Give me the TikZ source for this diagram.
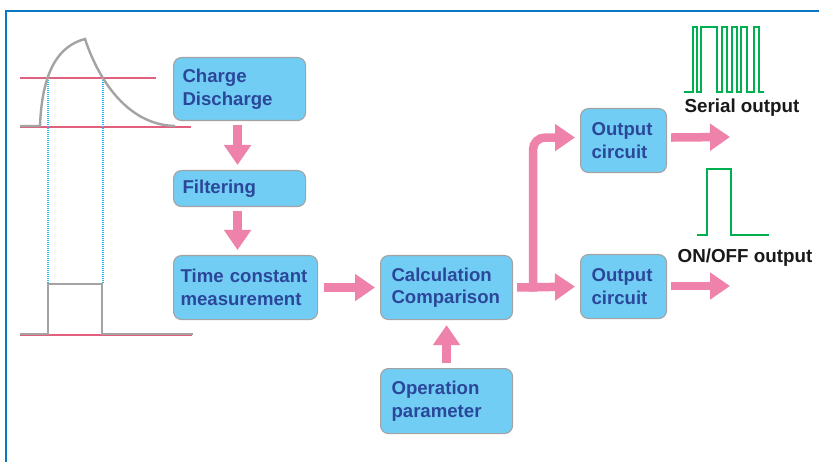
\documentclass[tikz,border=0pt]{standalone}
\usepackage{fontspec}
\setmainfont{Liberation Sans}
\usetikzlibrary{arrows.meta,calc}
\definecolor{boxfill}{HTML}{72CDF4}
\definecolor{boxtext}{HTML}{2B4799}
\definecolor{fatpink}{HTML}{EE82AA}
\definecolor{redline}{HTML}{E0607E}
\definecolor{curvegray}{HTML}{A3A3A3}
\definecolor{frameblue}{HTML}{0B76C4}
\definecolor{wavegreen}{HTML}{00B050}
\definecolor{dotcyan}{HTML}{2EB8E8}
\tikzset{
  box/.style={draw=curvegray, line width=1.1pt, fill=boxfill, rounded corners=8pt,
    anchor=north west, inner xsep=9pt, inner ysep=2pt, align=left,
    text=boxtext, font=\bfseries\fontsize{18.6}{22.5}\selectfont},
  fat/.style={draw=fatpink, line width=8.5pt, -{Triangle[width=26pt,length=20pt]},
    shorten <=4pt, shorten >=5pt},
  lbl/.style={font=\bfseries\fontsize{18.8}{22}\selectfont, text=black!90, inner sep=0pt},
  wave/.style={draw=wavegreen, line width=1.8pt},
  graycurve/.style={draw=curvegray, line width=2.4pt},
  level/.style={draw=redline, line width=1.4pt},
  dotv/.style={draw=dotcyan, line width=1.6pt, dash pattern=on 1pt off 1pt}
}
\begin{document}
\begin{tikzpicture}[x=1pt,y=-1pt]
\useasboundingbox (0,0) rectangle (819,462);
\fill[white] (0,0) rectangle (819,462);
% frame
\draw[frameblue, line width=2.6pt] (819,11) -- (6,11) -- (6,462);

% left signal graph
\draw[level] (20,78) -- (156,78);
\draw[level] (20,127) -- (191,127);
\draw[level] (20,335) -- (192,335);
\draw[dotv] (48,80) -- (48,283);
\draw[dotv] (103,80) -- (103,283);
\draw[graycurve] (20,126) -- (40,126) .. controls (42,72) and (58,46) .. (85,39)
  .. controls (100,84) and (130,125) .. (175,126);
\draw[graycurve] (20,334) -- (48,334) -- (48,284) -- (102,284) -- (102,334) -- (193,334);

% boxes
\node[box, text width=114pt, minimum height=63pt] (cd) at (173,57) {Charge\\Discharge};
\node[box, text width=114pt, minimum height=36pt] (filt) at (173,170) {Filtering};
\node[box, text width=130pt, inner xsep=7pt, minimum height=64pt] (tcm) at (173,255) {\mbox{Time constant}\\measurement};
\node[box, text width=110pt, minimum height=64pt, inner xsep=11pt] (calc) at (380,255) {Calculation\\Comparison};
\node[box, text width=110pt, minimum height=65pt, inner xsep=11pt] (op) at (380,368) {Operation\\parameter};
\node[box, text width=64pt, minimum height=64pt, inner xsep=11pt] (out1) at (580,108) {Output\\circuit};
\node[box, text width=64pt, minimum height=64pt, inner xsep=11pt] (out2) at (580,254) {Output\\circuit};

% connectors
\draw[fat] ([xshift=-2pt]cd.south) -- ([xshift=-2pt]cd.south |- filt.north);
\draw[fat] ([xshift=-2pt]filt.south) -- ([xshift=-2pt]filt.south |- tcm.north);
\draw[fat, shorten <=6pt] (tcm.east) -- (calc.west);
\draw[fat, shorten <=5pt] (op.north) -- (calc.south);
\coordinate (br) at (533,0);
\draw[fat] (calc.east) -- (out2.west);
\draw[fat, rounded corners=12pt, shorten <=0pt] ($(br |- calc.east)+(0,4)$) -- ([yshift=3pt]br |- out1.west) -- ([yshift=3pt]out1.west);
\coordinate (o1) at (730,137);
\coordinate (o2) at (730,286);
\draw[fat, shorten >=0pt] ([yshift=3pt]out1.east) -- (o1);
\draw[fat, shorten >=0pt] (out2.east |- o2) -- (o2);

% output waveforms
\draw[wave] (684,92) -- (693,92) -- (693,27) -- (697,27) -- (697,92) -- (701,92) -- (701,27)
  -- (717,27) -- (717,92) -- (722,92) -- (722,27) -- (727,27) -- (727,92) -- (732,92)
  -- (732,27) -- (737,27) -- (737,92) -- (741,92) -- (741,27) -- (747,27) -- (747,92)
  -- (754,92) -- (754,27) -- (759,27) -- (759,92) -- (764,92);
\draw[wave] (697,235) -- (707,235) -- (707,169) -- (731,169) -- (731,235) -- (769,235);
\node[lbl] (ser) at (742,108) {Serial output};
\node[lbl] (onoff) at (745,258) {ON/OFF output};
\end{tikzpicture}
\end{document}
